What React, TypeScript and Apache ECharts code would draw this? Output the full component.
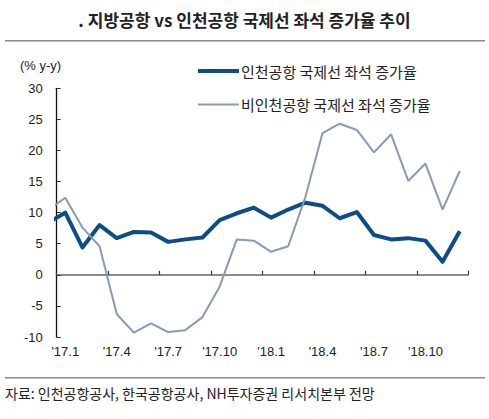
import React, { useEffect, useRef } from "react";
import * as echarts from "echarts";

const monthLabels = [
  "'17.1", "'17.2", "'17.3", "'17.4", "'17.5", "'17.6", "'17.7", "'17.8", "'17.9", "'17.10", "'17.11", "'17.12",
  "'18.1", "'18.2", "'18.3", "'18.4", "'18.5", "'18.6", "'18.7", "'18.8", "'18.9", "'18.10", "'18.11", "'18.12",
];
// first value is Dec 2016 (clipped at the axis), then Jan 2017 .. Dec 2018
const incheonSeats = [
  8.4, 10.0, 4.4, 8.0, 5.9, 6.9, 6.8, 5.3, 5.7, 6.0, 8.8, 9.9, 10.8,
  9.2, 10.5, 11.6, 11.1, 9.1, 10.1, 6.4, 5.7, 5.9, 5.5, 2.1, 7.0,
];
const nonIncheonSeats = [
  10.4, 12.4, 7.6, 4.6, -6.3, -9.3, -7.8, -9.2, -8.9, -6.8, -1.9, 5.7, 5.5,
  3.7, 4.6, 12.5, 22.8, 24.3, 23.3, 19.7, 22.6, 15.1, 17.9, 10.5, 16.7,
];
const yTicks = { min: -10, max: 30, step: 5 };

const seriesNames = ["인천공항 국제선 좌석 증가율", "비인천공항 국제선 좌석 증가율"];
const titleText = ". 지방공항 vs 인천공항 국제선 좌석 증가율 추이";
const sourceText = "자료: 인천공항공사, 한국공항공사, NH투자증권 리서치본부 전망";
const unitText = "(% y-y)";

const DARK = "#0d4d86";
const LIGHT = "#8b98b6";
const KR = "'Noto Sans CJK KR', 'Noto Sans', sans-serif";
const NUM = "'Liberation Sans', Arial, sans-serif";

const toPoints = (vals: number[]) => vals.map((v, i) => [i - 0.5, v]);

export default function App() {
  const ref = useRef<HTMLDivElement>(null);
  useEffect(() => {
    if (!ref.current) return;
    const chart = echarts.init(ref.current, undefined, { renderer: "svg" });
    chart.setOption({
      animation: false,
      backgroundColor: "#ffffff",
      grid: { left: 56.7, right: 20.7, top: 88.3, bottom: 82, containLabel: false },
      xAxis: [
        {
          type: "category",
          data: monthLabels,
          boundaryGap: true,
          position: "bottom",
          axisLine: { show: false, onZero: false },
          axisTick: { show: false },
          axisLabel: { interval: 2, margin: 8, fontSize: 13, color: "#222", fontFamily: NUM },
          splitLine: { show: false },
        },
        {
          type: "value",
          min: 0,
          max: 24,
          interval: 3,
          position: "bottom",
          axisLine: { show: true, onZero: true, lineStyle: { color: "#666", width: 1.5 } },
          axisTick: { show: true, inside: true, length: 4, lineStyle: { color: "#333", width: 1.2 } },
          axisLabel: { show: false },
          splitLine: { show: false },
        },
      ],
      yAxis: {
        type: "value",
        min: yTicks.min,
        max: yTicks.max,
        interval: yTicks.step,
        axisLine: { show: true, onZero: false, lineStyle: { color: "#111", width: 1.3 } },
        axisTick: { show: true, inside: true, length: 4, lineStyle: { color: "#333", width: 1 } },
        axisLabel: { margin: 14, fontSize: 13, color: "#222", fontFamily: NUM },
        splitLine: { show: false },
      },
      series: [
        {
          name: seriesNames[0],
          type: "line",
          xAxisIndex: 1,
          data: toPoints(incheonSeats),
          showSymbol: false,
          symbol: "none",
          clip: true,
          lineStyle: { color: DARK, width: 4, join: "round" },
          z: 3,
        },
        {
          name: seriesNames[1],
          type: "line",
          xAxisIndex: 1,
          data: toPoints(nonIncheonSeats),
          showSymbol: false,
          symbol: "none",
          clip: true,
          lineStyle: { color: LIGHT, width: 2 },
          z: 4,
        },
      ],
      graphic: [
        {
          type: "text",
          left: "center",
          top: 11,
          style: { text: titleText, font: `bold 17px ${KR}`, fill: "#222" },
        },
        {
          type: "line",
          shape: { x1: 5, y1: 40.7, x2: 485, y2: 40.7 },
          style: { stroke: "#8a8a8a", lineWidth: 1.5 },
        },
        {
          type: "text",
          x: 20,
          y: 65.5,
          style: { text: unitText, font: `13px ${NUM}`, fill: "#222", textVerticalAlign: "middle" },
        },
        {
          type: "line",
          shape: { x1: 198, y1: 71, x2: 239, y2: 71 },
          style: { stroke: DARK, lineWidth: 4 },
        },
        {
          type: "text",
          x: 241,
          y: 71,
          style: { text: seriesNames[0], font: `15px ${KR}`, fill: "#222", textVerticalAlign: "middle" },
        },
        {
          type: "line",
          shape: { x1: 198, y1: 104.5, x2: 239, y2: 104.5 },
          style: { stroke: LIGHT, lineWidth: 2 },
        },
        {
          type: "text",
          x: 241,
          y: 104,
          style: { text: seriesNames[1], font: `15px ${KR}`, fill: "#222", textVerticalAlign: "middle" },
        },
        {
          type: "line",
          shape: { x1: 5, y1: 377.7, x2: 485, y2: 377.7 },
          style: { stroke: "#8a8a8a", lineWidth: 1.5 },
        },
        {
          type: "text",
          x: 5,
          y: 393,
          style: { text: sourceText, font: `14px ${KR}`, fill: "#222", textVerticalAlign: "middle" },
        },
      ],
    });
    return () => chart.dispose();
  }, []);
  return (
    <div
      ref={ref}
      style={{ position: "fixed", left: 0, top: 0, width: 489, height: 419, background: "#fff" }}
    />
  );
}
